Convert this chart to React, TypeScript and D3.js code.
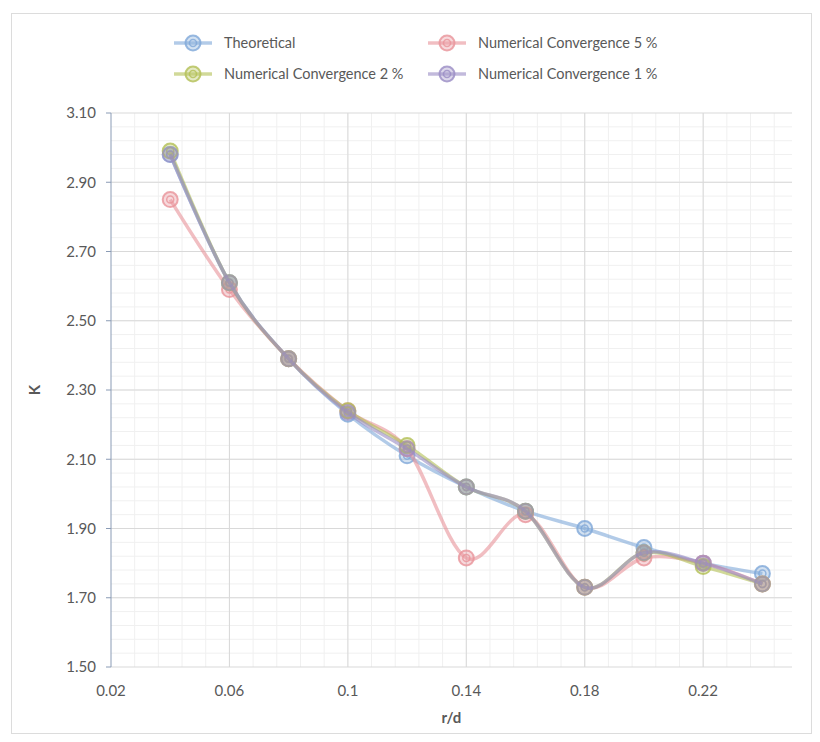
import React, { useEffect, useRef } from "react";
import * as d3 from "d3";

const rd = [0.04, 0.06, 0.08, 0.1, 0.12, 0.14, 0.16, 0.18, 0.2, 0.22, 0.24];
const theoretical = [2.98, 2.61, 2.39, 2.23, 2.11, 2.02, 1.95, 1.9, 1.845, 1.8, 1.77];
const conv5 = [2.85, 2.59, 2.39, 2.24, 2.13, 1.815, 1.94, 1.73, 1.815, 1.8, 1.74];
const conv2 = [2.99, 2.61, 2.39, 2.24, 2.14, 2.02, 1.95, 1.73, 1.83, 1.79, 1.74];
const conv1 = [2.98, 2.61, 2.39, 2.235, 2.13, 2.02, 1.95, 1.73, 1.83, 1.8, 1.74];
const xTicks = [0.02, 0.06, 0.1, 0.14, 0.18, 0.22];
const yTicks = [1.5, 1.7, 1.9, 2.1, 2.3, 2.5, 2.7, 2.9, 3.1];

const seriesNames = [
  "Theoretical",
  "Numerical Convergence 5 %",
  "Numerical Convergence 2 %",
  "Numerical Convergence 1 %",
];
const seriesColors = ["#7fa8d8", "#e8939a", "#b3bf55", "#9a8cc4"];
const seriesAlpha = [0.8, 0.8, 0.8, 0.55];

export default function App() {
  const svgRef = useRef<SVGSVGElement>(null);

  useEffect(() => {
    const width = 820;
    const height = 742;
    const left = 111;
    const right = 792;
    const top = 113;
    const bottom = 667;
    const font = "Lato, 'Open Sans', sans-serif";
    const textColor = "#595959";

    const svg = d3.select(svgRef.current);
    svg.selectAll("*").remove();
    svg.attr("width", width).attr("height", height);

    svg
      .append("rect")
      .attr("width", width)
      .attr("height", height)
      .attr("fill", "#ffffff");
    // chart border
    svg
      .append("rect")
      .attr("x", 11.5)
      .attr("y", 13.5)
      .attr("width", 800)
      .attr("height", 720)
      .attr("fill", "none")
      .attr("stroke", "#dcdcdc");

    const x = d3.scaleLinear().domain([0.02, 0.25]).range([left, right]);
    const y = d3.scaleLinear().domain([1.5, 3.1]).range([bottom, top]);

    // minor grid
    const g = svg.append("g");
    g.selectAll("line.minorx")
      .data(d3.range(0.028, 0.25, 0.008))
      .join("line")
      .attr("x1", (d) => x(d))
      .attr("x2", (d) => x(d))
      .attr("y1", top)
      .attr("y2", bottom)
      .attr("stroke", "#f0f0f0");
    g.selectAll("line.minory")
      .data(d3.range(1.54, 3.1, 0.04))
      .join("line")
      .attr("x1", left)
      .attr("x2", right)
      .attr("y1", (d) => y(d))
      .attr("y2", (d) => y(d))
      .attr("stroke", "#f0f0f0");

    // major grid
    svg
      .append("g")
      .selectAll("line")
      .data(xTicks.slice(1))
      .join("line")
      .attr("x1", (d) => x(d))
      .attr("x2", (d) => x(d))
      .attr("y1", top)
      .attr("y2", bottom)
      .attr("stroke", "#d9d9d9");
    svg
      .append("g")
      .selectAll("line")
      .data(yTicks)
      .join("line")
      .attr("x1", left)
      .attr("x2", right)
      .attr("y1", (d) => y(d))
      .attr("y2", (d) => y(d))
      .attr("stroke", "#d9d9d9");

    // y axis line and ticks
    svg
      .append("line")
      .attr("x1", left)
      .attr("x2", left)
      .attr("y1", top)
      .attr("y2", bottom)
      .attr("stroke", "#8a9bb5");
    svg
      .append("g")
      .selectAll("line")
      .data(yTicks)
      .join("line")
      .attr("x1", left - 5)
      .attr("x2", left)
      .attr("y1", (d) => y(d))
      .attr("y2", (d) => y(d))
      .attr("stroke", "#8a9bb5");

    svg
      .append("g")
      .selectAll("text")
      .data(yTicks)
      .join("text")
      .attr("x", 96)
      .attr("y", (d) => y(d))
      .attr("dy", "0.35em")
      .attr("text-anchor", "end")
      .style("font", `15px ${font}`)
      .style("fill", textColor)
      .text((d) => d3.format(".2f")(d));

    svg
      .append("g")
      .selectAll("text")
      .data(xTicks)
      .join("text")
      .attr("x", (d) => x(d))
      .attr("y", 691)
      .attr("dy", "0.35em")
      .attr("text-anchor", "middle")
      .style("font", `15px ${font}`)
      .style("fill", textColor)
      .text((d) => String(d));

    svg
      .append("text")
      .attr("x", (left + right) / 2)
      .attr("y", 718)
      .attr("dy", "0.35em")
      .attr("text-anchor", "middle")
      .style("font", `bold 15px ${font}`)
      .style("fill", textColor)
      .text("r/d");

    svg
      .append("text")
      .attr("transform", `translate(35, ${(top + bottom) / 2}) rotate(-90)`)
      .attr("dy", "0.35em")
      .attr("text-anchor", "middle")
      .style("font", `bold 15px ${font}`)
      .style("fill", textColor)
      .text("K");

    const allSeries = [theoretical, conv5, conv2, conv1];
    const line = d3
      .line<number>()
      .x((d, i) => x(rd[i]))
      .y((d) => y(d))
      .curve(d3.curveCardinal.tension(0));

    const drawMarker = (sel: any, cx: number, cy: number, color: string, a: number) => {
      sel
        .append("circle")
        .attr("cx", cx)
        .attr("cy", cy)
        .attr("r", 7.5)
        .attr("fill", color)
        .attr("fill-opacity", 0.35)
        .attr("stroke", color)
        .attr("stroke-opacity", a)
        .attr("stroke-width", 2);
      sel
        .append("circle")
        .attr("cx", cx)
        .attr("cy", cy)
        .attr("r", 3.5)
        .attr("fill", "none")
        .attr("stroke", color)
        .attr("stroke-opacity", a)
        .attr("stroke-width", 1.5);
    };

    allSeries.forEach((vals, si) => {
      const color = seriesColors[si];
      const sg = svg.append("g");
      sg.append("path")
        .attr("d", line(vals))
        .attr("fill", "none")
        .attr("stroke", color)
        .attr("stroke-opacity", 0.6)
        .attr("stroke-width", 3.5);
      vals.forEach((v, i) => drawMarker(sg, x(rd[i]), y(v), color, seriesAlpha[si]));
    });

    // legend
    const legendPos = [
      [193, 43],
      [447, 43],
      [193, 74],
      [447, 74],
    ];
    seriesNames.forEach((name, si) => {
      const [lx, ly] = legendPos[si];
      const color = seriesColors[si];
      const lg = svg.append("g");
      lg.append("line")
        .attr("x1", lx - 19)
        .attr("x2", lx + 19)
        .attr("y1", ly)
        .attr("y2", ly)
        .attr("stroke", color)
        .attr("stroke-opacity", 0.6)
        .attr("stroke-width", 3.5);
      drawMarker(lg, lx, ly, color, 0.8);
      lg.append("text")
        .attr("x", lx + 31)
        .attr("y", ly)
        .attr("dy", "0.35em")
        .style("font", `14.5px ${font}`)
        .style("fill", textColor)
        .text(name);
    });
  }, []);

  return (
    <div style={{ position: "absolute", left: 0, top: 0 }}>
      <svg ref={svgRef} />
    </div>
  );
}
